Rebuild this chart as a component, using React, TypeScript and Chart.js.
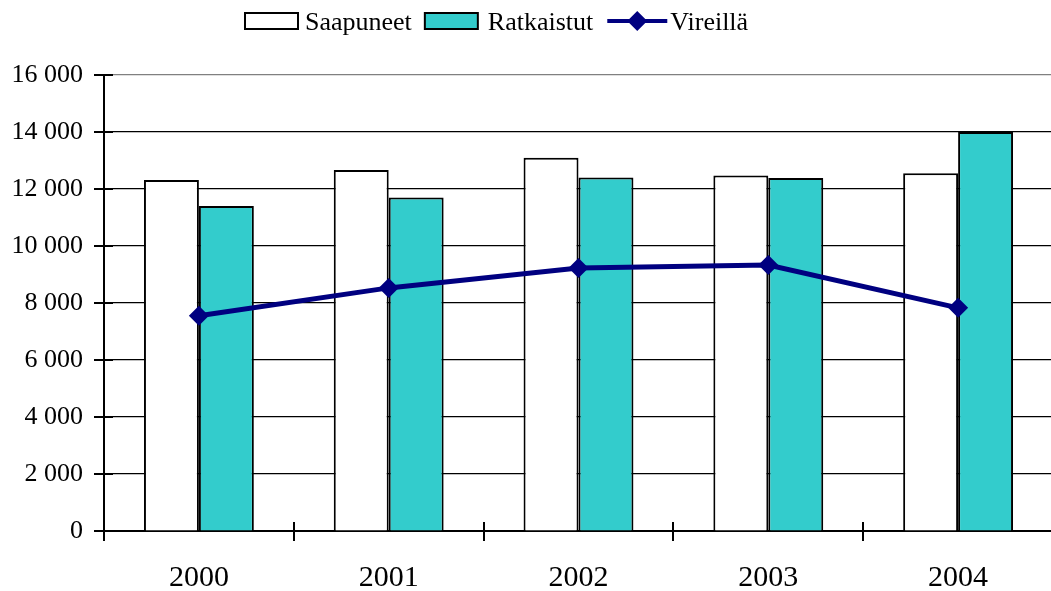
import React, { useEffect, useRef } from "react";
import { Chart, registerables } from "chart.js";

Chart.register(...registerables);

const categories = ["2000", "2001", "2002", "2003", "2004"];
const saapuneet = [12320, 12670, 13100, 12470, 12550];
const ratkaistut = [11400, 11700, 12400, 12390, 14000];
const vireilla = [7550, 8530, 9230, 9330, 7830];
const seriesNames = ["Saapuneet", "Ratkaistut", "Vireillä"];
const yMin = 0;
const yMax = 16000;
const yStep = 2000;

const FONT = '"Liberation Serif", "Times New Roman", serif';
const TEAL = "#33CCCC";
const NAVY = "#000080";

const formatThousands = (v: number) =>
  String(v).replace(/\B(?=(\d{3})+(?!\d))/g, " ");

const crossTicks = {
  id: "crossTicks",
  afterDraw(chart: any) {
    const { ctx, chartArea, scales } = chart;
    const x = scales.x;
    const y = scales.y;
    ctx.save();
    ctx.strokeStyle = "#000";
    ctx.lineWidth = 2;
    ctx.beginPath();
    for (let i = 0; i <= categories.length; i++) {
      const px = Math.round(x.getPixelForValue(i - 0.5));
      ctx.moveTo(px, chartArea.bottom - 9);
      ctx.lineTo(px, chartArea.bottom + 10);
    }
    for (const t of y.ticks) {
      const py = Math.round(y.getPixelForValue(t.value));
      ctx.moveTo(chartArea.left - 10, py);
      ctx.lineTo(chartArea.left + 9, py);
    }
    ctx.stroke();
    ctx.restore();
  },
};

const customLegend = {
  id: "customLegend",
  afterDraw(chart: any) {
    const { ctx } = chart;
    ctx.save();
    ctx.font = `26px ${FONT}`;
    ctx.textBaseline = "alphabetic";
    ctx.fillStyle = "#000";
    const cy = 21;
    let x = 245;
    // Saapuneet
    ctx.fillStyle = "#fff";
    ctx.fillRect(x, 13, 53, 16);
    ctx.strokeStyle = "#000";
    ctx.lineWidth = 2;
    ctx.strokeRect(x, 13, 53, 16);
    x += 53 + 7;
    ctx.fillStyle = "#000";
    ctx.fillText(seriesNames[0], x, 30);
    x += ctx.measureText(seriesNames[0]).width + 13;
    // Ratkaistut
    ctx.fillStyle = TEAL;
    ctx.fillRect(x, 13, 53, 16);
    ctx.strokeRect(x, 13, 53, 16);
    x += 53 + 10;
    ctx.fillStyle = "#000";
    ctx.fillText(seriesNames[1], x, 30);
    x += ctx.measureText(seriesNames[1]).width + 14;
    // Vireillä
    ctx.strokeStyle = NAVY;
    ctx.lineWidth = 4;
    ctx.beginPath();
    ctx.moveTo(x, cy);
    ctx.lineTo(x + 60, cy);
    ctx.stroke();
    ctx.fillStyle = NAVY;
    ctx.beginPath();
    const dx = x + 30;
    ctx.moveTo(dx - 10, cy);
    ctx.lineTo(dx, cy - 10);
    ctx.lineTo(dx + 10, cy);
    ctx.lineTo(dx, cy + 10);
    ctx.closePath();
    ctx.fill();
    x += 63;
    ctx.fillStyle = "#000";
    ctx.fillText(seriesNames[2], x, 30);
    ctx.restore();
  },
};

export default function App() {
  const canvasRef = useRef<HTMLCanvasElement | null>(null);

  useEffect(() => {
    document.body.style.margin = "0";
    const canvas = canvasRef.current;
    if (!canvas) return;
    const chart = new Chart(canvas, {
      type: "bar",
      data: {
        labels: categories,
        datasets: [
          {
            type: "line",
            label: seriesNames[2],
            data: vireilla,
            borderColor: NAVY,
            backgroundColor: NAVY,
            borderWidth: 5,
            pointStyle: "rectRot",
            pointRadius: 10,
            pointBackgroundColor: NAVY,
            pointBorderColor: NAVY,
            pointBorderWidth: 0,
            tension: 0,
            order: 0,
          } as any,
          {
            type: "bar",
            label: seriesNames[0],
            data: saapuneet,
            backgroundColor: "#ffffff",
            borderColor: "#000000",
            borderWidth: 2,
            order: 1,
          },
          {
            type: "bar",
            label: seriesNames[1],
            data: ratkaistut,
            backgroundColor: TEAL,
            borderColor: "#000000",
            borderWidth: 2,
            order: 2,
          },
        ],
      },
      options: {
        responsive: false,
        animation: false,
        devicePixelRatio: 1,
        layout: { padding: { top: 75, right: 2, left: 0, bottom: 0 } },
        datasets: {
          bar: { categoryPercentage: 110 / 190, barPercentage: 1 },
        },
        plugins: {
          legend: { display: false },
          tooltip: { enabled: false },
          title: { display: false },
        },
        scales: {
          x: {
            grid: { display: false, drawTicks: false },
            border: { display: true, color: "#000", width: 2 },
            ticks: {
              color: "#000",
              font: { family: FONT, size: 30 },
              padding: 29,
              maxRotation: 0,
            },
            afterFit(scale: any) {
              scale.height = 60;
            },
          },
          y: {
            min: yMin,
            max: yMax,
            grid: {
              color: (ctx: any) =>
                ctx.tick && ctx.tick.value === yMax ? "#808080" : "#000000",
              lineWidth: 1.2,
              drawTicks: false,
            },
            border: { display: true, color: "#000", width: 2 },
            ticks: {
              stepSize: yStep,
              color: "#000",
              font: { family: FONT, size: 26 },
              padding: 21,
              callback: (v: any) => formatThousands(Number(v)),
            },
            afterFit(scale: any) {
              scale.width = 104;
            },
          },
        },
      },
      plugins: [crossTicks, customLegend],
    });
    return () => chart.destroy();
  }, []);

  return (
    <div style={{ width: 1051, height: 591, overflow: "hidden", background: "#fff" }}>
      <canvas ref={canvasRef} width={1063} height={591} style={{ display: "block" }} />
    </div>
  );
}
